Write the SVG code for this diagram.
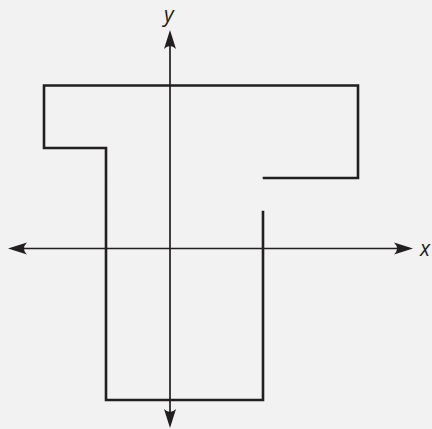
<svg xmlns="http://www.w3.org/2000/svg" width="432" height="429" viewBox="0 0 432 429">
<defs>
<style>
.axis{stroke:#231f20;stroke-width:1.7;fill:none}
.shape{stroke:#231f20;stroke-width:2.6;fill:none;stroke-linejoin:miter;stroke-linecap:square}
.head{fill:#231f20}
.lbl{font-family:"Open Sans","Noto Sans",sans-serif;font-style:italic;font-size:21px;fill:#231f20}
</style>
</defs>
<rect width="432" height="429" fill="#f2f2f2"/>
<g id="axes">
<line class="axis" x1="20" y1="248.5" x2="402" y2="248.5"/>
<line class="axis" x1="170" y1="42" x2="170" y2="416"/>
<path class="head" d="M8,248.5 L27,242.5 Q21,248.5 27,254.5 Z"/>
<path class="head" d="M413,248.5 L394,242.5 Q400,248.5 394,254.5 Z"/>
<path class="head" d="M170,30 L164,49 Q170,43 176,49 Z"/>
<path class="head" d="M170,428 L164,409 Q170,415 176,409 Z"/>
</g>
<g id="labels">
<text class="lbl" x="164" y="22">y</text>
<text class="lbl" x="420" y="256">x</text>
</g>
<g id="shape">
<path class="shape" d="M263,212 V400 H106 V148 H44 V85.5 H358 V178 H264"/>
</g>
</svg>
